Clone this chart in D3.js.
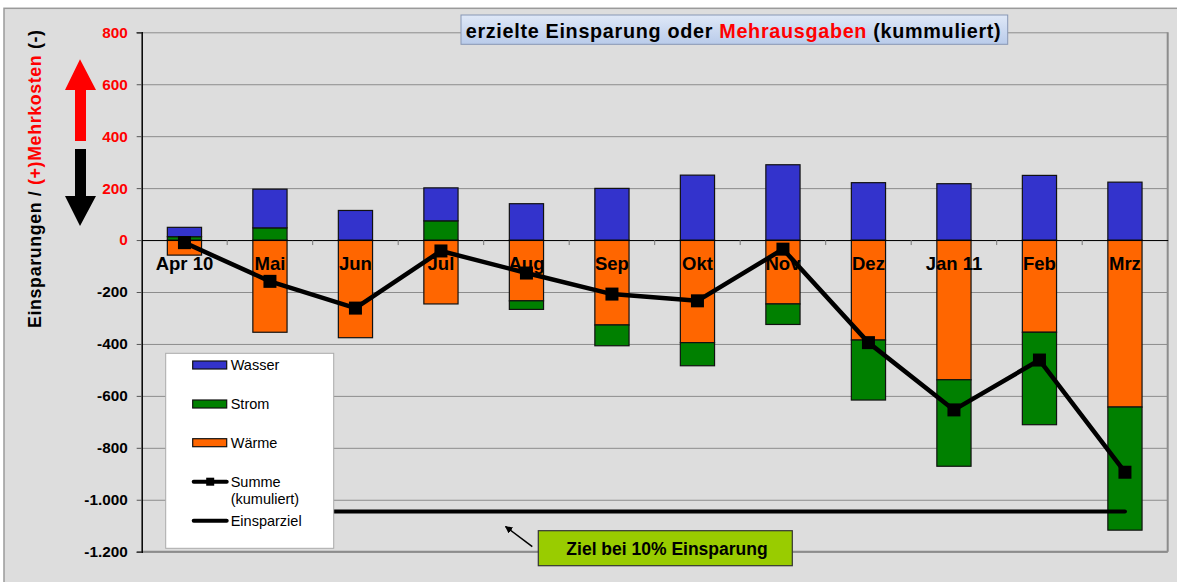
<!DOCTYPE html>
<html>
<head>
<meta charset="utf-8">
<script src="https://cdn.jsdelivr.net/npm/d3@7"></script>
<style>
  body { margin: 0; background: #fff; }
  #grafico { width: 1177px; height: 582px; }
  text { font-family: "Liberation Sans", Arial, sans-serif; }
</style>
</head>
<body>
<div id="grafico"></div>
<script>
// data
var monate = ["Apr 10", "Mai", "Jun", "Jul", "Aug", "Sep", "Okt", "Nov", "Dez", "Jan 11", "Feb", "Mrz"];
var wasser = [36, 149, 114, 127, 140, 199, 250, 290, 221, 217, 249, 223];
var strom  = [13, 47, 0, 74, -33, -80, -89, -79, -231, -333, -356, -474];
var waerme = [-58, -355, -376, -246, -234, -327, -395, -246, -385, -538, -355, -643];
var summe  = [-10, -159, -262, -42, -127, -208, -234, -35, -395, -654, -462, -894];
var einsparziel = [-1045, -1045, -1045, -1045, -1045, -1045, -1045, -1045, -1045, -1045, -1045, -1045];
var yTicks = [800, 600, 400, 200, 0, -200, -400, -600, -800, -1000, -1200];

var farben = { "Wasser": "#3333CC", "Strom": "#008000", "Wärme": "#FF6600" };

var margin = {top: 32.3, right: 9.3, bottom: 30.3, left: 141.7},
    width = 1177 - margin.left - margin.right,
    height = 582 - margin.top - margin.bottom;

var de = d3.formatLocale({decimal: ",", thousands: ".", grouping: [3], currency: ["", " €"], minus: "-"});
var fmt = de.format(",d");

var svg0 = d3.select("#grafico").append("svg")
    .attr("width", 1177)
    .attr("height", 582);

// chart area
svg0.append("rect")
    .attr("x", 4).attr("y", 8.3)
    .attr("width", 1200).attr("height", 600)
    .style("fill", "#DDDDDD")
    .style("stroke", "#9a9a9a")
    .style("stroke-width", 1.5);

var svg = svg0.append("g")
    .attr("transform", "translate(" + margin.left + "," + margin.top + ")");

var x = d3.scaleBand().domain(monate).range([0, width]);
var y = d3.scaleLinear().domain([-1200, 800]).range([height, 0]);

// gridlines
svg.append("g")
    .attr("class", "grid")
    .call(d3.axisLeft(y).tickValues(yTicks).tickSize(-width).tickFormat(""))
    .call(function(g) { g.select(".domain").remove(); })
    .selectAll("line")
    .style("stroke", "#8c8c8c");

// plot border right / bottom
svg.append("line")
    .attr("x1", width).attr("x2", width).attr("y1", 0).attr("y2", height)
    .style("stroke", "#8c8c8c").style("stroke-width", 2);
svg.append("line")
    .attr("x1", 0).attr("x2", width).attr("y1", height).attr("y2", height)
    .style("stroke", "#8c8c8c").style("stroke-width", 2);

// stacked bars
var rows = monate.map(function(m, i) {
  return {monat: m, "Wärme": waerme[i], "Strom": strom[i], "Wasser": wasser[i]};
});
var stack = d3.stack()
    .keys(["Wärme", "Strom", "Wasser"])
    .offset(d3.stackOffsetDiverging);
var serien = stack(rows);

var bw = x.bandwidth() * 0.4;

svg.selectAll(".serie")
    .data(serien)
  .enter().append("g")
    .attr("class", "serie")
    .style("fill", function(d) { return farben[d.key]; })
  .selectAll("rect")
    .data(function(d) { return d.filter(function(p) { return p[0] !== p[1]; }); })
  .enter().append("rect")
    .attr("x", function(d) { return x(d.data.monat) + (x.bandwidth() - bw) / 2; })
    .attr("width", bw)
    .attr("y", function(d) { return y(Math.max(d[0], d[1])); })
    .attr("height", function(d) { return Math.abs(y(d[0]) - y(d[1])); })
    .style("stroke", "#111")
    .style("stroke-width", 1.2);

// zero line with ticks
svg.append("g")
    .attr("transform", "translate(0," + y(0) + ")")
    .call(d3.axisBottom(x).tickSize(0).tickFormat(""))
    .select(".domain").style("stroke", "#000");
svg.append("g")
    .selectAll("line")
    .data(monate.slice(1))
  .enter().append("line")
    .attr("x1", function(d) { return x(d); })
    .attr("x2", function(d) { return x(d); })
    .attr("y1", y(0)).attr("y2", y(0) + 5)
    .style("stroke", "#777");

// category labels
svg.append("g")
    .selectAll("text")
    .data(monate)
  .enter().append("text")
    .attr("x", function(d) { return x(d) + x.bandwidth() / 2; })
    .attr("y", y(0) + 30)
    .attr("text-anchor", "middle")
    .style("font-size", "18.5px")
    .style("font-weight", "bold")
    .style("fill", "#000")
    .text(function(d) { return d; });

// y axis
var yAxis = svg.append("g")
    .call(d3.axisLeft(y).tickValues(yTicks).tickSize(5).tickPadding(9).tickFormat(fmt));
yAxis.select(".domain").style("stroke", "#000").style("stroke-width", 1.5);
yAxis.selectAll(".tick line").style("stroke", "#555");
yAxis.selectAll(".tick text")
    .style("font-size", "15.3px")
    .style("font-weight", "bold")
    .style("font-family", "'Liberation Sans', Arial, sans-serif")
    .style("fill", function(d) { return d >= 0 ? "#FF0000" : "#000"; });

// lines
var linie = d3.line()
    .x(function(d, i) { return x(monate[i]) + x.bandwidth() / 2; })
    .y(function(d) { return y(d); });

svg.append("path")
    .datum(einsparziel)
    .attr("d", linie)
    .style("fill", "none")
    .style("stroke", "#000")
    .style("stroke-width", 4)
    .style("stroke-linecap", "round");

svg.append("path")
    .datum(summe)
    .attr("d", linie)
    .style("fill", "none")
    .style("stroke", "#000")
    .style("stroke-width", 4.5)
    .style("stroke-linejoin", "round");

svg.selectAll(".marker")
    .data(summe)
  .enter().append("rect")
    .attr("class", "marker")
    .attr("x", function(d, i) { return x(monate[i]) + x.bandwidth() / 2 - 6.5; })
    .attr("y", function(d) { return y(d) - 6.5; })
    .attr("width", 13).attr("height", 13)
    .style("fill", "#000");

// legend
var leg = svg0.append("g").attr("transform", "translate(165.7,353.3)");
leg.append("rect")
    .attr("width", 168).attr("height", 195)
    .style("fill", "#fff").style("stroke", "#aaa").style("stroke-width", 1);

var legBars = [["Wasser", 11.7], ["Strom", 50.7], ["Wärme", 89.4]];
legBars.forEach(function(e) {
  leg.append("rect")
      .attr("x", 27).attr("y", e[1] - 4)
      .attr("width", 34).attr("height", 8)
      .style("fill", farben[e[0]]).style("stroke", "#111").style("stroke-width", 1.2);
  leg.append("text")
      .attr("x", 65).attr("y", e[1] + 5)
      .style("font-size", "14.5px")
      .text(e[0]);
});
leg.append("line")
    .attr("x1", 28).attr("x2", 61).attr("y1", 128.4).attr("y2", 128.4)
    .style("stroke", "#000").style("stroke-width", 4).style("stroke-linecap", "round");
leg.append("rect")
    .attr("x", 40.5).attr("y", 124.4).attr("width", 8).attr("height", 8)
    .style("fill", "#000");
leg.append("text").attr("x", 65).attr("y", 133.4).style("font-size", "14.5px").text("Summe");
leg.append("text").attr("x", 65).attr("y", 151).style("font-size", "14.5px").text("(kumuliert)");
leg.append("line")
    .attr("x1", 28).attr("x2", 61).attr("y1", 167.4).attr("y2", 167.4)
    .style("stroke", "#000").style("stroke-width", 4).style("stroke-linecap", "round");
leg.append("text").attr("x", 65).attr("y", 172.4).style("font-size", "14.5px").text("Einsparziel");

// title box
var defs = svg0.append("defs");
var grad = defs.append("linearGradient").attr("id", "tg").attr("x1", 0).attr("y1", 0).attr("x2", 0).attr("y2", 1);
grad.append("stop").attr("offset", "0%").attr("stop-color", "#dfe8f7");
grad.append("stop").attr("offset", "100%").attr("stop-color", "#b9cbea");

svg0.append("rect")
    .attr("x", 461).attr("y", 15)
    .attr("width", 546.7).attr("height", 29.3)
    .style("fill", "url(#tg)").style("stroke", "#8797b5").style("stroke-width", 1);
var titel = svg0.append("text")
    .attr("x", 465.7).attr("y", 37.8)
    .attr("textLength", 535)
    .attr("lengthAdjust", "spacing")
    .style("font-size", "19.8px")
    .style("font-weight", "bold");
titel.append("tspan").text("erzielte Einsparung oder ");
titel.append("tspan").style("fill", "#FF0000").text("Mehrausgaben");
titel.append("tspan").text(" (kummuliert)");

// y axis title
var yt = svg0.append("text")
    .attr("transform", "translate(41,328) rotate(-90)")
    .attr("textLength", 298)
    .attr("lengthAdjust", "spacing")
    .style("font-size", "17.8px")
    .style("font-weight", "bold");
yt.append("tspan").text("Einsparungen / ");
yt.append("tspan").style("fill", "#FF0000").text("(+)Mehrkosten");
yt.append("tspan").text(" (-)");

// arrows
svg0.append("path")
    .attr("d", "M80,59.3 L96,90 L86,90 L86,141 L75,141 L75,90 L65,90 Z")
    .style("fill", "#FF0000");
svg0.append("path")
    .attr("d", "M75,149 L86,149 L86,196 L96,196 L80,226 L65,196 L75,196 Z")
    .style("fill", "#000");

// Ziel box
svg0.append("rect")
    .attr("x", 538.3).attr("y", 530.7)
    .attr("width", 254).attr("height", 35)
    .style("fill", "#99CC00").style("stroke", "#333").style("stroke-width", 1.2);
svg0.append("text")
    .attr("x", 667).attr("y", 554.5)
    .attr("text-anchor", "middle")
    .style("font-size", "17.5px")
    .style("font-weight", "bold")
    .text("Ziel bei 10% Einsparung");

defs.append("marker")
    .attr("id", "pfeil").attr("viewBox", "0 0 10 10")
    .attr("refX", 9).attr("refY", 5)
    .attr("markerWidth", 5).attr("markerHeight", 5)
    .attr("orient", "auto")
  .append("path").attr("d", "M0,0 L10,5 L0,10 Z").style("fill", "#000");
svg0.append("line")
    .attr("x1", 532.3).attr("y1", 546.7).attr("x2", 505.5).attr("y2", 526.5)
    .style("stroke", "#000").style("stroke-width", 1.5)
    .attr("marker-end", "url(#pfeil)");
</script>
</body>
</html>
